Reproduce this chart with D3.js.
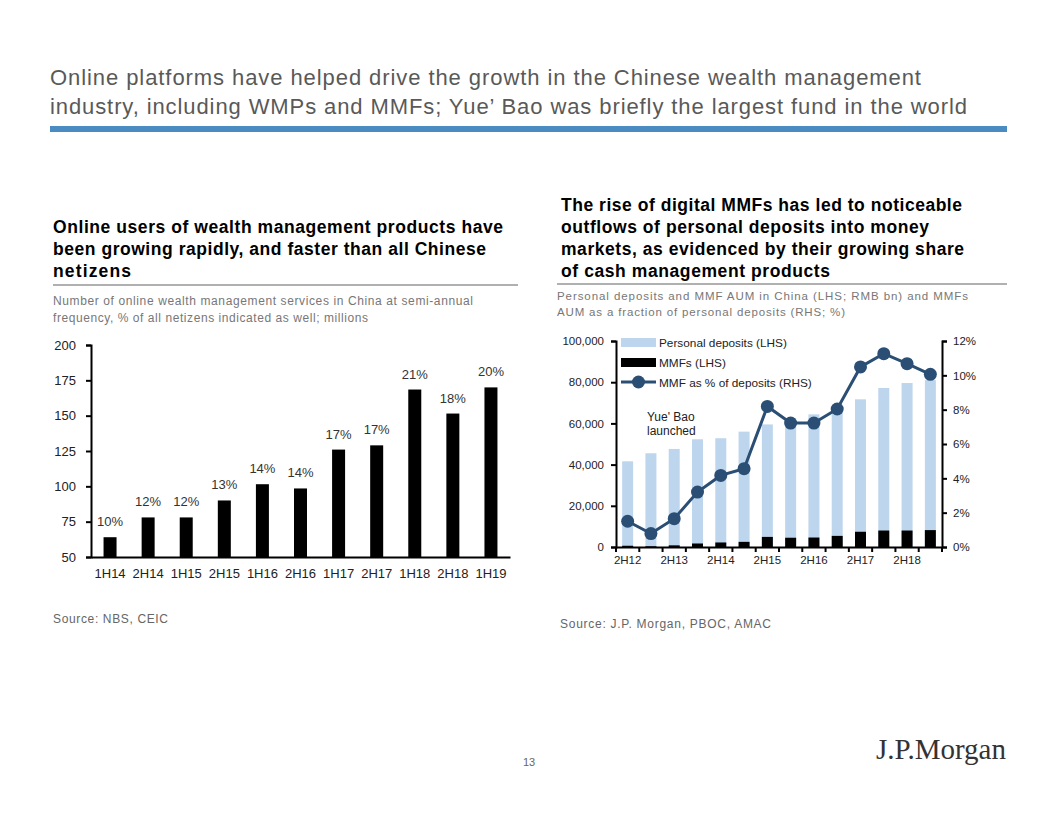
<!DOCTYPE html>
<html><head><meta charset="utf-8">
<script src="https://cdn.jsdelivr.net/npm/d3@7"></script>
<style>
html,body{margin:0;padding:0;background:#fff;}
svg{display:block;}
text{font-family:Arial,"Liberation Sans",sans-serif;}
</style></head>
<body>
<svg id="c" width="1056" height="816"></svg>
<script>
// ---------- Data ----------
const leftCategories = ["1H14","2H14","1H15","2H15","1H16","2H16","1H17","2H17","1H18","2H18","1H19"];
const leftUsers = [64, 78, 78, 90, 101.5, 98.5, 126, 129, 168.5, 151.5, 170];
const leftShareLabels = ["10%","12%","12%","13%","14%","14%","17%","17%","21%","18%","20%"];
const leftYTicks = [50,75,100,125,150,175,200];

const rightPeriods = ["2H12","1H13","2H13","1H14","2H14","1H15","2H15","1H16","2H16","1H17","2H17","1H18","2H18","1H19"];
const personalDeposits = [41600,45500,47600,52300,52800,56000,59500,62500,64400,67000,71700,77200,79600,81000];
const mmfAum = [600,350,800,1700,2200,2500,4900,4500,4600,5400,7400,8000,8000,8200];
const mmfShare = [0.0150,0.0078,0.0165,0.0320,0.0417,0.0456,0.0819,0.0722,0.0722,0.0804,0.1049,0.1126,0.1068,0.1006];
const rightXLabels = ["2H12","2H13","2H14","2H15","2H16","2H17","2H18"];
const rightLeftTicks = [0,20000,40000,60000,80000,100000];
const rightRightTicks = [0,0.02,0.04,0.06,0.08,0.10,0.12];

const svg = d3.select("#c");

function lines(sel, arr, x, y0, dy, size, fill, bold, widths){
  sel.selectAll(null).data(arr).enter().append("text")
    .attr("x",x).attr("y",(d,i)=>y0+i*dy).attr("font-size",size).attr("fill",fill)
    .attr("font-weight",bold?"bold":"normal")
    .attr("textLength",(d,i)=>widths[i]).attr("lengthAdjust","spacing")
    .text(d=>d);
}

// ---------- Header ----------
const titleLines = ["Online platforms have helped drive the growth in the Chinese wealth management",
  "industry, including WMPs and MMFs; Yue\u2019 Bao was briefly the largest fund in the world"];
lines(svg, titleLines, 50, 85, 29, 22, "#595959", false, [871, 917]);
svg.append("rect").attr("x",50).attr("y",126).attr("width",957).attr("height",6).attr("fill","#4a8bc2");

// ---------- Left panel texts ----------
const lHead = ["Online users of wealth management products have","been growing rapidly, and faster than all Chinese","netizens"];
lines(svg, lHead, 53, 233, 22, 17.5, "#000", true, [450, 433, 78]);
svg.append("rect").attr("x",53).attr("y",284).attr("width",465).attr("height",2).attr("fill","#b0b0b0");
const lDesc = ["Number of online wealth management services in China at semi-annual","frequency, % of all netizens indicated as well; millions"];
lines(svg, lDesc, 53, 305, 17, 12, "#777", false, [420, 315]);
svg.append("text").attr("x",53).attr("y",623).attr("font-size",12).attr("fill","#666")
  .attr("textLength",115).attr("lengthAdjust","spacing").text("Source: NBS, CEIC");

// ---------- Right panel texts ----------
const rHead = ["The rise of digital MMFs has led to noticeable","outflows of personal deposits into money","markets, as evidenced by their growing share","of cash management products"];
lines(svg, rHead, 561, 211, 22, 17.5, "#000", true, [401, 368, 403, 269]);
svg.append("rect").attr("x",557).attr("y",283).attr("width",450).attr("height",2).attr("fill","#b0b0b0");
const rDesc = ["Personal deposits and MMF AUM in China (LHS; RMB bn) and MMFs","AUM as a fraction of personal deposits (RHS; %)"];
lines(svg, rDesc, 557, 300, 16, 11.5, "#777", false, [411, 288]);
svg.append("text").attr("x",560).attr("y",628).attr("font-size",12).attr("fill","#666")
  .attr("textLength",211).attr("lengthAdjust","spacing").text("Source: J.P. Morgan, PBOC, AMAC");

// footer
svg.append("text").attr("x",529).attr("y",766).attr("text-anchor","middle").attr("font-size",11).attr("fill","#666").text("13");
svg.append("text").attr("x",1006).attr("y",759).attr("text-anchor","end").attr("font-size",29)
  .style("font-family","'Liberation Serif','DejaVu Serif',serif").attr("fill","#333").text("J.P.Morgan");

// ---------- Left chart ----------
{
  const x = d3.scaleBand().domain(leftCategories).range([91,510]).padding(0);
  const y = d3.scaleLinear().domain([50,200]).range([557,345]);
  const bw = 13;
  const g = svg.append("g");
  g.selectAll("rect.bar").data(leftUsers).enter().append("rect")
    .attr("x",(d,i)=>x(leftCategories[i])+x.bandwidth()/2-bw/2)
    .attr("y",d=>y(d)).attr("width",bw).attr("height",d=>y(50)-y(d)).attr("fill","#000");
  g.selectAll("text.pl").data(leftUsers).enter().append("text")
    .attr("x",(d,i)=>x(leftCategories[i])+x.bandwidth()/2)
    .attr("y",d=>y(d)-11).attr("text-anchor","middle").attr("font-size",13).attr("fill","#333")
    .text((d,i)=>leftShareLabels[i]);
  const ya = d3.axisLeft(y).tickValues(leftYTicks).tickSize(5).tickPadding(10).tickFormat(d3.format("d"));
  const yg = g.append("g").attr("transform","translate(91,0)").call(ya);
  yg.select(".domain").attr("stroke","#000").attr("stroke-width",2);
  yg.selectAll(".tick line").attr("stroke","#000").attr("stroke-width",2);
  yg.selectAll(".tick text").attr("font-size",13).attr("fill","#222").attr("font-family","Arial,'Liberation Sans',sans-serif");
  const xa = d3.axisBottom(x).tickSize(0).tickPadding(12);
  const xg = g.append("g").attr("transform","translate(0,557)").call(xa);
  xg.select(".domain").attr("stroke","#000").attr("stroke-width",2);
  xg.selectAll(".tick text").attr("font-size",13).attr("fill","#222").attr("font-family","Arial,'Liberation Sans',sans-serif");
}

// ---------- Right chart ----------
{
  const x = d3.scaleBand().domain(rightPeriods).range([616,942]).padding(0);
  const yL = d3.scaleLinear().domain([0,100000]).range([547,341]);
  const yR = d3.scaleLinear().domain([0,0.12]).range([547,341]);
  const bw = 11;
  const cx = p => x(p)+x.bandwidth()/2;
  const g = svg.append("g");
  g.selectAll("rect.dep").data(personalDeposits).enter().append("rect")
    .attr("x",(d,i)=>cx(rightPeriods[i])-bw/2).attr("y",d=>yL(d)).attr("width",bw).attr("height",d=>yL(0)-yL(d)).attr("fill","#bdd6ee");
  g.selectAll("rect.mmf").data(mmfAum).enter().append("rect")
    .attr("x",(d,i)=>cx(rightPeriods[i])-bw/2).attr("y",d=>yL(d)).attr("width",bw).attr("height",d=>yL(0)-yL(d)).attr("fill","#000");

  // axes
  const yla = d3.axisLeft(yL).tickValues(rightLeftTicks).tickSize(5).tickPadding(7).tickFormat(d3.format(","));
  const ylg = g.append("g").attr("transform","translate(616,0)").call(yla);
  const yra = d3.axisRight(yR).tickValues(rightRightTicks).tickSize(5).tickPadding(6).tickFormat(d3.format(".0%"));
  const yrg = g.append("g").attr("transform","translate(942,0)").call(yra);
  const xa = d3.axisBottom(x).tickSize(0).tickPadding(9).tickFormat(d=>rightXLabels.includes(d)?d:"");
  const xg = g.append("g").attr("transform","translate(0,547)").call(xa);
  const edges = rightPeriods.map(p=>x(p)).concat([x(rightPeriods[rightPeriods.length-1])+x.bandwidth()]);
  xg.selectAll("line.edge").data(edges).enter().append("line")
    .attr("x1",d=>d).attr("x2",d=>d).attr("y1",0).attr("y2",5).attr("stroke","#000").attr("stroke-width",2);
  [ylg,yrg,xg].forEach(a=>{
    a.select(".domain").attr("stroke","#000").attr("stroke-width",2);
    a.selectAll(".tick line").attr("stroke","#000").attr("stroke-width",2);
    a.selectAll(".tick text").attr("font-size",11.5).attr("fill","#222").attr("font-family","Arial,'Liberation Sans',sans-serif");
  });

  // line
  const lineCol = "#2b4f74";
  const line = d3.line().x((d,i)=>cx(rightPeriods[i])).y(d=>yR(d));
  g.append("path").datum(mmfShare).attr("d",line).attr("fill","none").attr("stroke",lineCol).attr("stroke-width",3);
  g.selectAll("circle.pt").data(mmfShare).enter().append("circle")
    .attr("cx",(d,i)=>cx(rightPeriods[i])).attr("cy",d=>yR(d)).attr("r",6.5).attr("fill",lineCol);

  // legend
  const lg = g.append("g");
  lg.append("rect").attr("x",621).attr("y",338).attr("width",35).attr("height",9).attr("fill","#bdd6ee");
  lg.append("rect").attr("x",621).attr("y",358).attr("width",35).attr("height",9).attr("fill","#000");
  lg.append("line").attr("x1",621).attr("x2",656).attr("y1",382).attr("y2",382).attr("stroke",lineCol).attr("stroke-width",3);
  lg.append("circle").attr("cx",638.5).attr("cy",382).attr("r",6.5).attr("fill",lineCol);
  const legTexts = ["Personal deposits (LHS)","MMFs (LHS)","MMF as % of deposits (RHS)"];
  lg.selectAll("text").data(legTexts).enter().append("text")
    .attr("x",659).attr("y",(d,i)=>346.5+i*20).attr("font-size",11.8).attr("fill","#222").text(d=>d);

  // annotation
  g.append("text").attr("x",647).attr("y",421).attr("font-size",12).attr("fill","#222").text("Yue' Bao");
  g.append("text").attr("x",647).attr("y",435).attr("font-size",12).attr("fill","#222").text("launched");
}
</script>
</body></html>
